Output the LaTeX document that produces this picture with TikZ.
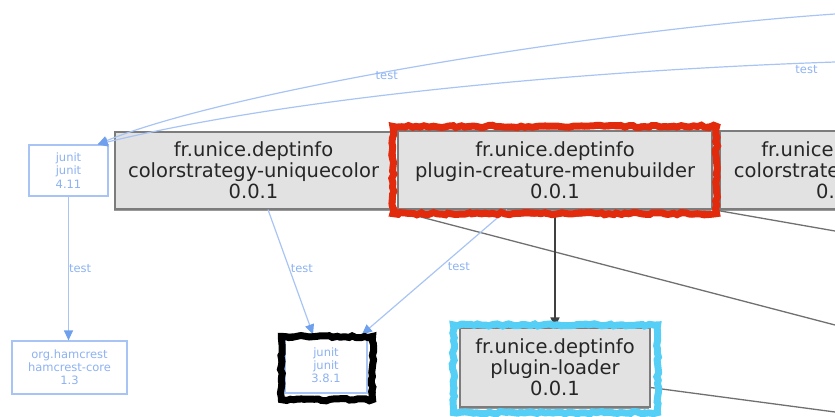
\documentclass[tikz,border=0pt]{standalone}
\usepackage{fontspec}
\setmainfont{DejaVu Sans}
\usetikzlibrary{arrows.meta,calc,decorations.pathmorphing,shadows}
\definecolor{edgeblue}{HTML}{A8C4F4}
\definecolor{tipblue}{HTML}{6FA0EE}
\definecolor{txtblue}{HTML}{8DB2F2}
\definecolor{boxgray}{HTML}{E2E2E2}
\definecolor{bordergray}{HTML}{7C7C7C}
\definecolor{hlred}{HTML}{E22A0C}
\definecolor{hlcyan}{HTML}{55CFF6}
\definecolor{linegray}{HTML}{707070}
\begin{document}
\begin{tikzpicture}[x=1pt,y=-1pt,
  artifact/.style={draw=bordergray, fill=boxgray, line width=1.2pt, align=center,
    font=\fontsize{19.5}{21}\selectfont, text=black!85, inner sep=0pt,
    general shadow={shadow xshift=-1.5pt, shadow yshift=-1.5pt, fill=black!40}},
  extdep/.style={draw=edgeblue, fill=white, line width=1.2pt, align=center,
    font=\fontsize{11.5}{13.2}\selectfont, text=txtblue, inner sep=0pt},
  testedge/.style={draw=edgeblue, line width=1.2pt, -{Triangle[length=10pt,width=9pt,color=tipblue]}},
  testlabel/.style={font=\fontsize{11.5}{12}\selectfont, text=txtblue, inner sep=1pt},
  depedge/.style={draw=black!75, line width=1.3pt, -{Triangle[length=10pt,width=9pt]}},
  farline/.style={draw=linegray, line width=1.3pt},
  scribble/.style={line width=#1, decorate, decoration={random steps, segment length=4pt, amplitude=1.2pt}},
]
\useasboundingbox (0,0) rectangle (835,416);
\clip (0,0) rectangle (835,416);
\pgfmathsetseed{7}

% nodes
\node[extdep, minimum width=79pt, minimum height=51pt] (j411) at (68.5,170.5) {junit\\junit\\4.11};
\node[extdep, minimum width=115pt, minimum height=53pt] (hc) at (69.5,367.5) {org.hamcrest\\hamcrest-core\\1.3};
\node[extdep, minimum width=82pt, minimum height=56pt] (j381) at (326,365) {junit\\junit\\3.8.1};
\node[artifact, minimum width=277pt, minimum height=77pt] (cu) at (253.5,170.5) {fr.unice.deptinfo\\colorstrategy-uniquecolor\\0.0.1};
\node[artifact, minimum width=314pt, minimum height=78pt] (mb) at (555,170) {fr.unice.deptinfo\\plugin-creature-menubuilder\\0.0.1};
\node[artifact, minimum width=242pt, minimum height=78pt] (cr) at (841,170) {fr.unice.deptinfo\\colorstrategy-rainbow\\0.0.1};
\node[artifact, minimum width=190pt, minimum height=79pt] (pl) at (555,367.5) {fr.unice.deptinfo\\plugin-loader\\0.0.1};

% free ends
\coordinate (src1) at (835,14);
\coordinate (src2) at (835,62);
\coordinate (far1) at (835,325);
\coordinate (far2) at (835,231);
\coordinate (far3) at (835,412);

% gray lines to nodes outside the view
\draw[farline] (cu.south east) -- (far1);
\draw[farline] (mb.south east) -- (far2);
\draw[farline] ($(pl.east)+(0,20)$) -- (far3);

% test edges
\draw[testedge] (src1) .. controls (600,30) and (230,90) .. ($(j411.north east)+(-11,0)$)
  node[testlabel, pos=0.55, yshift=-3pt] {test};
\draw[testedge] (src2) .. controls (600,70) and (300,95) .. ($(j411.north east)+(-11,0)$)
  node[testlabel, pos=0.04, yshift=-6pt] {test};
\draw[testedge] (j411.south) -- (j411.south |- hc.north)
  node[testlabel, pos=0.5, right=-1pt] {test};
\draw[testedge] ($(cu.south)+(14.5,0)$) -- ($(j381.north)+(-13,-2)$)
  node[testlabel, pos=0.47, right=0pt] {test};
\draw[testedge] ($(mb.south)+(-48,0)$) -- ($(j381.north)+(36,-2)$)
  node[testlabel, pos=0.46, right=6pt] {test};

% compile dependency
\draw[depedge] ($(mb.south)+(0,7)$) -- (pl.north);

% highlights
\foreach \s/\w in {3/7pt,11/4pt,19/2pt}{
  \pgfmathsetseed{\s}
  \draw[hlred, scribble=\w] ($(mb.north west)+(-4.5,-4)$) rectangle ($(mb.south east)+(4,4)$);
  \draw[hlcyan, scribble=\w] ($(pl.north west)+(-6,-2.5)$) rectangle ($(pl.south east)+(7,5)$);
  \draw[black, scribble=\w] ($(j381.north west)+(-3,0)$) rectangle ($(j381.south east)+(5,6)$);
}
\end{tikzpicture}
\end{document}
